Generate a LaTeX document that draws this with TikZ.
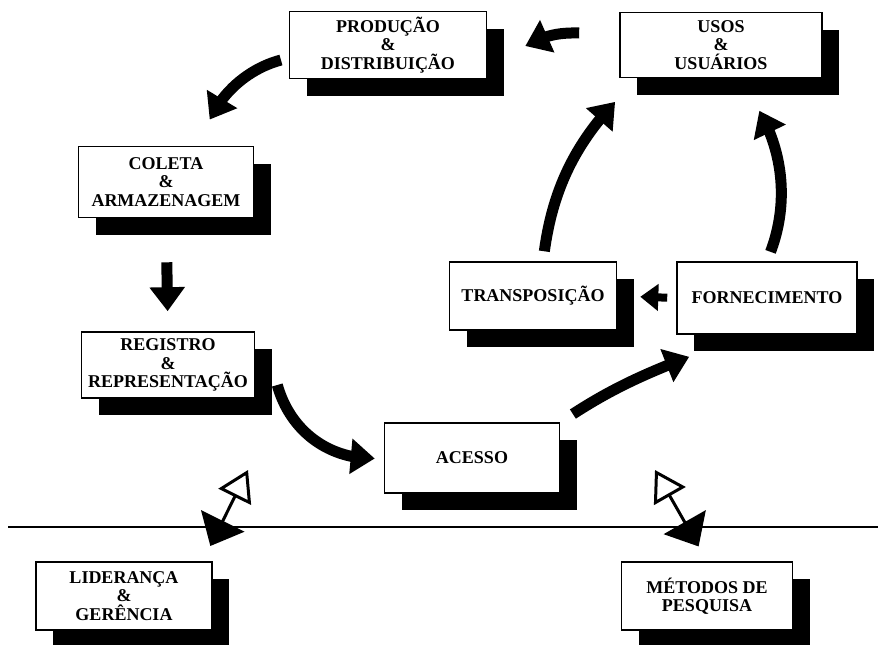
\documentclass[tikz,border=0pt]{standalone}
\usepackage{fontspec}
\setmainfont{Liberation Serif}
\usetikzlibrary{arrows.meta,bending,shadows}
\begin{document}
\begin{tikzpicture}[x=1pt, y=-1pt, font=\fontsize{18}{18.5}\selectfont\bfseries, line width=1.6pt,
  box/.style={draw, fill=white, align=center, inner sep=0pt,
    drop shadow={shadow xshift=17pt, shadow yshift=-17pt, opacity=1, fill=black}},
  blk/.style={line width=11pt, -{Triangle[length=24pt, width=34pt]}},
  dbl/.style={line width=3pt, {Triangle[length=28pt, width=48pt]}-{Triangle[length=30pt, width=36pt, fill=white]}}]
  \useasboundingbox (0,0) rectangle (878,645);
  % boxes
  \node[box, minimum width=197pt, minimum height=67pt] (prod) at (388,45) {PRODUÇÃO\\\&\\DISTRIBUIÇÃO};
  \node[box, minimum width=202pt, minimum height=65pt] (usos) at (721,45) {USOS\\\&\\USUÁRIOS};
  \node[box, minimum width=175pt, minimum height=71pt] (coleta) at (166,182) {COLETA\\\&\\ARMAZENAGEM};
  \node[box, minimum width=173pt, minimum height=66pt] (registro) at (168,365) {REGISTRO\\\&\\REPRESENTAÇÃO};
  \node[box, minimum width=175pt, minimum height=70pt] (acesso) at (472,458) {ACESSO};
  \node[box, minimum width=167pt, minimum height=68pt] (transp) at (533,296) {TRANSPOSIÇÃO};
  \node[box, minimum width=180pt, minimum height=72pt] (forn) at (767,298) {FORNECIMENTO};
  \node[box, minimum width=176pt, minimum height=68pt] (lider) at (124,596) {LIDERANÇA\\\&\\GERÊNCIA};
  \node[box, minimum width=171pt, minimum height=68pt] (metodos) at (707,596) {MÉTODOS DE\\PESQUISA};
  % separator
  \draw (8,527) -- (878,527);
  % cycle arrows
  \draw[blk] ([xshift=-40pt, yshift=12pt]usos.west) to[bend right=15] ([xshift=38pt, yshift=-1pt]prod.east);
  \draw[blk, shorten <=8pt, shorten >=29pt] ([yshift=-13pt]prod.west) to[bend right=30] ([xshift=34pt]coleta.north);
  \draw[blk, shorten <=44pt, shorten >=20pt] (coleta.south) -- (registro.north);
  \draw[blk, shorten >=9pt] ([xshift=22pt, yshift=-20pt]registro.east) to[bend right=40] (acesso.west);
  \draw[blk, shorten <=15pt] (acesso.north east) to[bend left=6] ([xshift=13pt, yshift=-22pt]forn.south west);
  \draw[blk, line width=8pt, -{Triangle[length=18pt, width=26pt]}, shorten <=9pt, shorten >=23pt] (forn.west) -- (transp.east);
  \draw[blk, shorten <=10pt, shorten >=35pt] ([xshift=10pt]transp.north) to[bend left=20] ([xshift=20pt]usos.south west);
  \draw[blk, shorten <=10pt, shorten >=41pt] (forn.north) to[bend right=30] ([xshift=16pt]usos.south);
  % links across the line
  \coordinate (lidtip) at (248,470);
  \coordinate (mettip) at (655,470);
  \draw[dbl, shorten <=17pt] ([xshift=-10pt]lider.north east) -- (lidtip);
  \draw[dbl, shorten <=17pt] (metodos.north) -- (mettip);
\end{tikzpicture}
\end{document}
